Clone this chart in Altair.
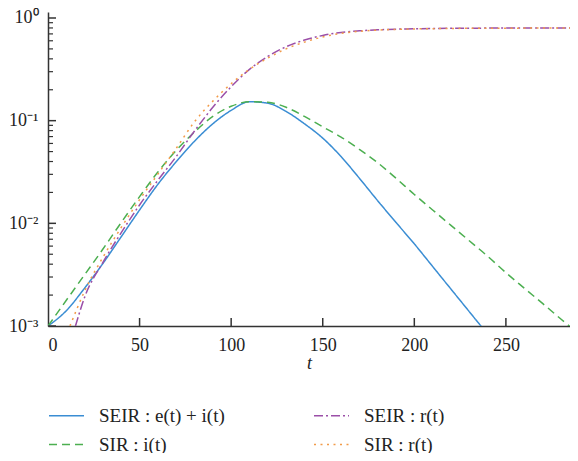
import altair as alt
import pandas as pd

# ---- data (log-scale y) ----
t_seir_ei = [0, 10, 20, 30, 40, 50, 60, 70, 80, 90, 100, 110, 120, 130, 140, 150,
             160, 170, 180, 190, 200, 210, 220, 230, 240]
seir_ei = [0.00100, 0.00141, 0.00234, 0.00407, 0.00741, 0.0135, 0.0240, 0.0398, 0.0631,
           0.0933, 0.126, 0.153, 0.148, 0.123, 0.0933, 0.0676, 0.0447, 0.0275, 0.0166,
           0.0102, 0.00631, 0.00380, 0.00229, 0.00138, 0.000832]

t_sir_i = [0, 10, 20, 30, 40, 50, 60, 70, 80, 90, 100, 110, 120, 130, 140, 150, 160,
           170, 180, 190, 200, 210, 220, 230, 240, 250, 260, 270, 280, 290]
sir_i = [0.00100, 0.00178, 0.00316, 0.00562, 0.0102, 0.0182, 0.0316, 0.0513, 0.0776,
         0.110, 0.138, 0.153, 0.151, 0.135, 0.110, 0.0871, 0.0692, 0.0525, 0.0389,
         0.0275, 0.0191, 0.0135, 0.00955, 0.00676, 0.00479, 0.00331, 0.00234, 0.00166,
         0.00117, 0.000832]

t_seir_r = [15, 20, 30, 40, 50, 60, 70, 80, 90, 100, 110, 120, 130, 140, 150, 160,
            170, 180, 200, 220, 250, 290]
seir_r = [0.00100, 0.00191, 0.00417, 0.00813, 0.0151, 0.0263, 0.0447, 0.0794, 0.135,
          0.214, 0.316, 0.422, 0.525, 0.610, 0.676, 0.724, 0.750, 0.767, 0.785, 0.794,
          0.798, 0.800]

t_sir_r = [12, 20, 30, 40, 50, 60, 70, 80, 90, 100, 110, 120, 130, 140, 150, 160,
           170, 180, 200, 220, 250, 290]
sir_r = [0.00100, 0.00219, 0.00468, 0.00912, 0.0170, 0.0302, 0.0537, 0.0977, 0.155,
         0.229, 0.316, 0.407, 0.501, 0.582, 0.653, 0.708, 0.741, 0.762, 0.782, 0.791,
         0.796, 0.798]

# legend fills column by column: col 1 = SEIR e+i, SIR i ; col 2 = SEIR r, SIR r
series_names = ["SEIR : e(t) + i(t)", "SIR : i(t)", "SEIR : r(t)", "SIR : r(t)"]
series_colors = ["#3a8dd3", "#4caf50", "#9b4fa8", "#f29b48"]
series_dash = [[1, 0], [8, 5], [9, 3, 2, 3], [2, 4.5]]
series_t = [t_seir_ei, t_sir_i, t_seir_r, t_sir_r]
series_v = [seir_ei, sir_i, seir_r, sir_r]

y_major = [0.001, 0.01, 0.1, 1.0]
y_minor = [m * d for d in [0.001, 0.01, 0.1] for m in range(2, 10)]
x_ticks = [50, 100, 150, 200, 250]

rows = []
for name, ts, vs in zip(series_names, series_t, series_v):
    for t, v in zip(ts, vs):
        rows.append({"t": t, "v": v, "series": name})
df = pd.DataFrame(rows)

FONT = "Liberation Serif"
AX = "#333333"
TXT = "#222222"
W, H = 522, 314

xscale = alt.Scale(domain=[0, 285], nice=False, zero=False)
yscale = alt.Scale(type="log", domain=[0.001, 1.144], nice=False)

legend_opts = dict(title=None, orient="none", legendX=0, legendY=385,
                   columns=2, columnPadding=86, rowPadding=-8,
                   symbolType="stroke", symbolSize=1225, symbolStrokeWidth=1.5,
                   labelOffset=14, labelFont=FONT, labelFontSize=19, labelColor=TXT,
                   labelLimit=300, padding=0)

lines = alt.Chart(df).mark_line(strokeWidth=1.5, clip=True, interpolate="monotone").encode(
    x=alt.X("t:Q", scale=xscale,
            axis=alt.Axis(values=x_ticks + [0], ticks=False, tickSize=0, labelPadding=10,
                          title="t", titleFontStyle="italic", titleFontWeight="normal",
                          titlePadding=0, grid=False)),
    y=alt.Y("v:Q", scale=yscale,
            axis=alt.Axis(values=y_major, ticks=False, tickSize=0, labelPadding=10,
                          title=None, grid=False,
                          labelExpr="datum.value >= 0.9 ? '10⁰' : datum.value >= 0.09 ? '10⁻¹' : datum.value >= 0.009 ? '10⁻²' : '10⁻³'")),
    color=alt.Color("series:N", sort=series_names,
                    scale=alt.Scale(domain=series_names, range=series_colors),
                    legend=alt.Legend(**legend_opts)),
    strokeDash=alt.StrokeDash("series:N", sort=series_names,
                              scale=alt.Scale(domain=series_names, range=series_dash),
                              legend=alt.Legend(**legend_opts)),
)

ymaj = alt.Chart(pd.DataFrame({"v": y_major})).mark_rule(color=AX, strokeWidth=1.5).encode(
    y=alt.Y("v:Q", scale=yscale), x=alt.value(0), x2=alt.value(8))
ymin = alt.Chart(pd.DataFrame({"v": y_minor})).mark_rule(color=AX, strokeWidth=1.2).encode(
    y=alt.Y("v:Q", scale=yscale), x=alt.value(0), x2=alt.value(5))
xt = alt.Chart(pd.DataFrame({"t": x_ticks})).mark_rule(color=AX, strokeWidth=1.5).encode(
    x=alt.X("t:Q", scale=xscale), y=alt.value(H), y2=alt.value(H - 8))

chart = alt.layer(lines, ymaj, ymin, xt).properties(
    width=W, height=H,
    autosize=alt.AutoSizeParams(type="none"),
    padding={"left": 40, "top": 4, "right": 0, "bottom": 127},
).configure_view(stroke=None).configure_axis(
    domainColor=AX, domainWidth=1.5, labelFont=FONT, labelFontSize=18, labelColor=TXT,
    titleFont=FONT, titleFontSize=18, titleColor=TXT
)

chart.save("out.html", embed_options={"renderer": "svg", "actions": False})
